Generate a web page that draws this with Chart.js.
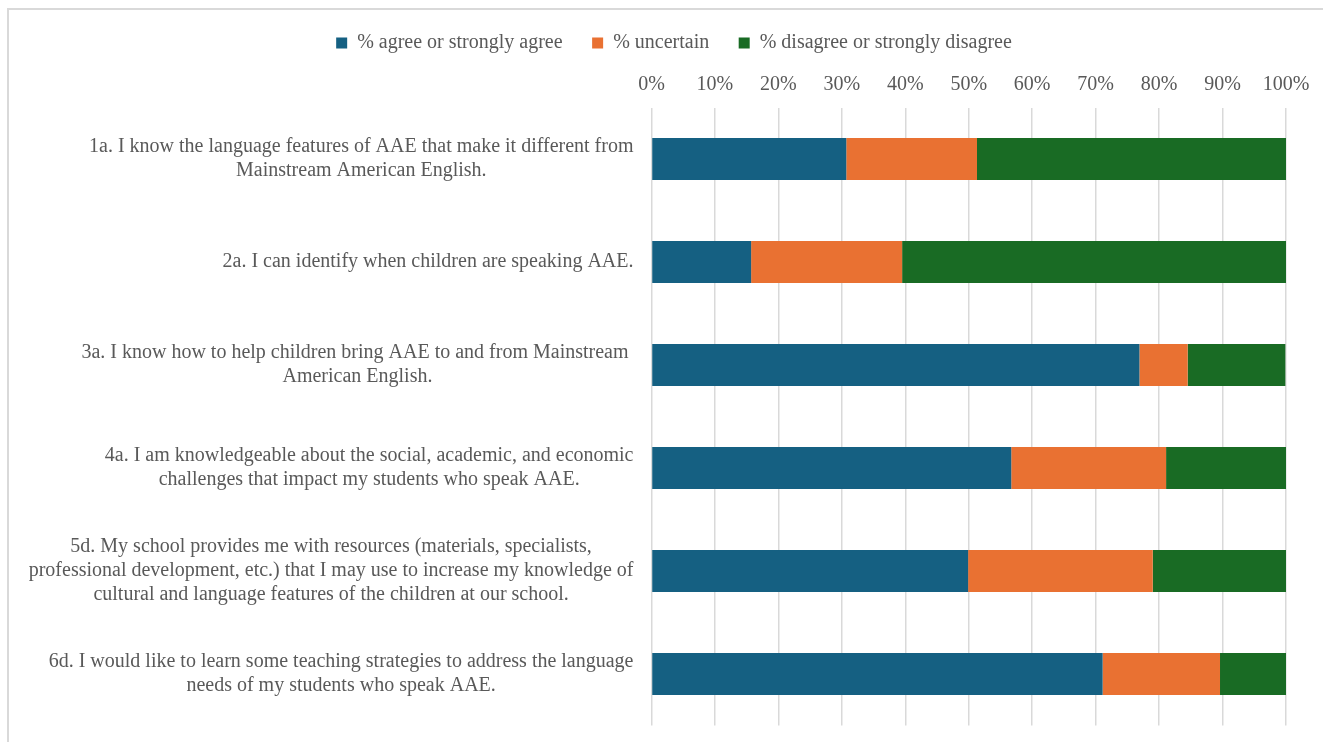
<!DOCTYPE html>
<html>
<head>
<meta charset="utf-8">
<script src="https://cdn.jsdelivr.net/npm/chart.js@4/dist/chart.umd.min.js"></script>
<style>
  html, body { margin: 0; padding: 0; background: #fff; overflow: hidden; }
  #wrap { position: relative; width: 1323px; height: 742px; }
  #frame { position: absolute; left: 7px; top: 8px; width: 1400px; height: 800px; border: 2px solid #d9d9d9; box-sizing: border-box; }
  canvas { position: absolute; left: 0; top: 0; }
</style>
</head>
<body>
<div id="wrap">
  <div id="frame"></div>
  <canvas id="chart" width="1323" height="742"></canvas>
</div>
<script>
const questions = [
  ['1a. I know the language features of AAE that make it different from', 'Mainstream American English.'],
  ['2a. I can identify when children are speaking AAE.'],
  ['3a. I know how to help children bring AAE to and from Mainstream ', 'American English.'],
  ['4a. I am knowledgeable about the social, academic, and economic', 'challenges that impact my students who speak AAE.'],
  ['5d. My school provides me with resources (materials, specialists,', 'professional development, etc.) that I may use to increase my knowledge of', 'cultural and language features of the children at our school.'],
  ['6d. I would like to learn some teaching strategies to address the language', 'needs of my students who speak AAE.']
]
const agree = [30.7, 15.7, 76.9, 56.7, 49.9, 71.1]
const uncertain = [20.6, 23.8, 7.6, 24.4, 29.1, 18.5]
const disagree = [48.7, 60.5, 15.4, 18.9, 21.0, 10.4]
const seriesNames = ['% agree or strongly agree', '% uncertain', '% disagree or strongly disagree']

const textColor = '#595959'
const fontFamily = '"Liberation Serif", "Times New Roman", serif'
const fontSize = 20

// multi-line category labels: block right-aligned, lines centred inside the block
const yLabelsPlugin = {
  id: 'yLabels',
  afterDraw(chart) {
    const ctx = chart.ctx
    const yScale = chart.scales.y
    const right = yScale.right - 18
    const lineH = 24
    ctx.save()
    ctx.font = fontSize + 'px ' + fontFamily
    ctx.fillStyle = textColor
    ctx.textAlign = 'center'
    ctx.textBaseline = 'middle'
    questions.forEach((lines, i) => {
      const yc = yScale.getPixelForValue(i)
      const w = Math.max(...lines.map(l => ctx.measureText(l).width))
      const xc = right - w / 2
      const y0 = yc - (lines.length - 1) * lineH / 2
      lines.forEach((l, j) => ctx.fillText(l, xc, y0 + j * lineH))
    })
    ctx.restore()
  }
}

const ctx = document.getElementById('chart').getContext('2d')
const chart = new Chart(ctx, {
  type: 'bar',
  data: {
    labels: questions.map(q => q.join(' ')),
    datasets: [
      { label: seriesNames[0], data: agree, backgroundColor: '#156082' },
      { label: seriesNames[1], data: uncertain, backgroundColor: '#E97132' },
      { label: seriesNames[2], data: disagree, backgroundColor: '#196B24' }
    ]
  },
  options: {
    indexAxis: 'y',
    responsive: false,
    animation: false,
    categoryPercentage: 0.82,
    barPercentage: 0.5,
    layout: { padding: { left: 62, right: 37, top: 3.5, bottom: 16.5 } },
    plugins: {
      legend: {
        position: 'top',
        labels: {
          boxWidth: 11,
          boxHeight: 11,
          padding: 29.5,
          color: textColor,
          font: { family: fontFamily, size: fontSize }
        }
      },
      tooltip: { enabled: false }
    },
    scales: {
      x: {
        position: 'top',
        stacked: true,
        min: 0,
        max: 100,
        ticks: {
          stepSize: 10,
          padding: 11,
          color: textColor,
          font: { family: fontFamily, size: fontSize },
          callback: v => v + '%'
        },
        grid: { color: '#d9d9d9', lineWidth: 1.5, drawTicks: false },
        border: { display: false },
        afterFit(scale) { scale.height = 44.5 }
      },
      y: {
        stacked: true,
        ticks: { display: false },
        grid: { display: false },
        border: { display: false },
        afterFit(scale) { scale.width = 589.5 }
      }
    }
  },
  plugins: [yLabelsPlugin]
})
</script>
</body>
</html>
